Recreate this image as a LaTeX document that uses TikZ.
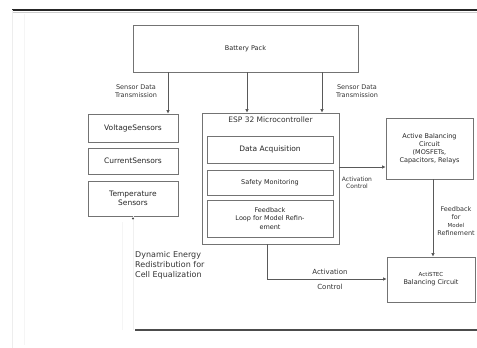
\documentclass[tikz,border=0pt]{standalone}
\usepackage{fontspec}
\setmainfont{DejaVu Sans}
\usetikzlibrary{arrows.meta,positioning}
\begin{document}
\begin{tikzpicture}[x=1pt,y=-1pt,
  box/.style={draw=black!55,line width=0.8pt,fill=white,inner sep=0pt,align=center,text=black!85},
  conn/.style={draw=black!65,line width=0.7pt,-{Latex[length=3.5pt,width=3.5pt]}},
  lbl/.style={text=black!80,align=center,inner sep=0pt},
  fs/.style={/utils/exec={\pgfmathsetmacro\myfs{#1}\pgfmathsetmacro\mybs{#1*1.25}},font=\fontsize{\myfs}{\mybs}\selectfont}]
\useasboundingbox (0,0) rectangle (477,348);
% page frame traces
\draw[black!85,line width=1.6pt] (12,10) -- (477,10);
\draw[black!20,line width=0.8pt] (12,12) -- (477,12);
\draw[black!7,line width=0.6pt] (12,10) -- (12,348);
\draw[black!4,line width=0.6pt] (24,14) -- (24,345);
% nodes
\node[box,fs=6.5,minimum width=225pt,minimum height=47pt] (bat) at (245.5,48.5) {Battery Pack};
\node[box,fs=7.5,minimum width=90pt,minimum height=28pt] (volt) at (133,128) {VoltageSensors};
\node[box,fs=7.5,minimum width=90pt,minimum height=26pt] (curr) at (133,161) {CurrentSensors};
\node[box,fs=7.5,minimum width=90pt,minimum height=35pt] (temp) at (133,198.5) {Temperature\\Sensors};
\node[box,minimum width=137pt,minimum height=131pt] (esp) at (270.5,178.5) {};
\node[lbl,fs=7.5,anchor=north] (esptitle) at (270.5,117) {ESP 32 Microcontroller};
\node[box,fs=7.5,minimum width=126pt,minimum height=27pt] (daq) at (270,149.5) {Data Acquisition};
\node[box,fs=6.5,minimum width=126pt,minimum height=25pt] (safe) at (270,182.5) {Safety Monitoring};
\node[box,fs=6.5,minimum width=126pt,minimum height=37pt] (fb) at (270,218.5) {Feedback\\Loop for Model Refin-\\ement};
\node[box,fs=6.5,minimum width=87pt,minimum height=61pt] (act) at (429.5,148.5) {Active Balancing\\Circuit\\(MOSFETs,\\Capacitors, Relays};
\node[box,fs=6.5,minimum width=88pt,minimum height=45pt] (stec) at (431,279.5) {{\fontsize{5.5}{7}\selectfont ActiSTEC}\\Balancing Circuit};
% connectors from battery
\coordinate (b1) at (168,72);
\coordinate (b2) at (247,72);
\coordinate (b3) at (322,72);
\draw[conn] (b1) -- (b1 |- volt.north);
\draw[conn] (b2) -- (b2 |- esp.north);
\draw[conn] (b3) -- (b3 |- esp.north);
\node[lbl,fs=6.5] (l1) at (136,91) {Sensor Data\\Transmission};
\node[lbl,fs=6.5] (l2) at (357,91) {Sensor Data\\Transmission};
% esp to active
\coordinate (e1) at (339,167);
\draw[conn] (e1) -- (e1 -| act.west);
\node[lbl,fs=6] (l3) at (357,183) {Activation\\Control};
% active to stec
\coordinate (a1) at (433,179);
\draw[conn] (a1) -- (a1 |- stec.north);
\node[lbl,fs=6.5] (l4) at (456,221) {Feedback\\for\\{\fontsize{5.5}{7}\selectfont Model}\\Refinement};
% esp bottom to stec
\coordinate (e2) at (267,244);
\coordinate (e3) at (267,279);
\draw[conn] (e2) -- (e3) -- (stec.west |- e3);
\node[lbl,fs=7] (l5) at (330,272) {Activation};
\node[lbl,fs=7] (l6) at (330,287) {Control};
% faint line below temperature
\coordinate (t1) at (133,330);
\draw[black!6,line width=0.6pt] (t1) -- (temp.south);
\fill[black!70] (temp.south) ++(0,2) circle (1.1pt);
\draw[black!4,line width=0.6pt] (122,222) -- (122,330);
% dynamic label
\node[lbl,fs=8,align=left,anchor=north west] (dyn) at (135,251) {Dynamic Energy\\Redistribution for\\Cell Equalization};
% bottom rule
\draw[black!70,line width=1.1pt] (135,330) -- (477,330);
\end{tikzpicture}
\end{document}
